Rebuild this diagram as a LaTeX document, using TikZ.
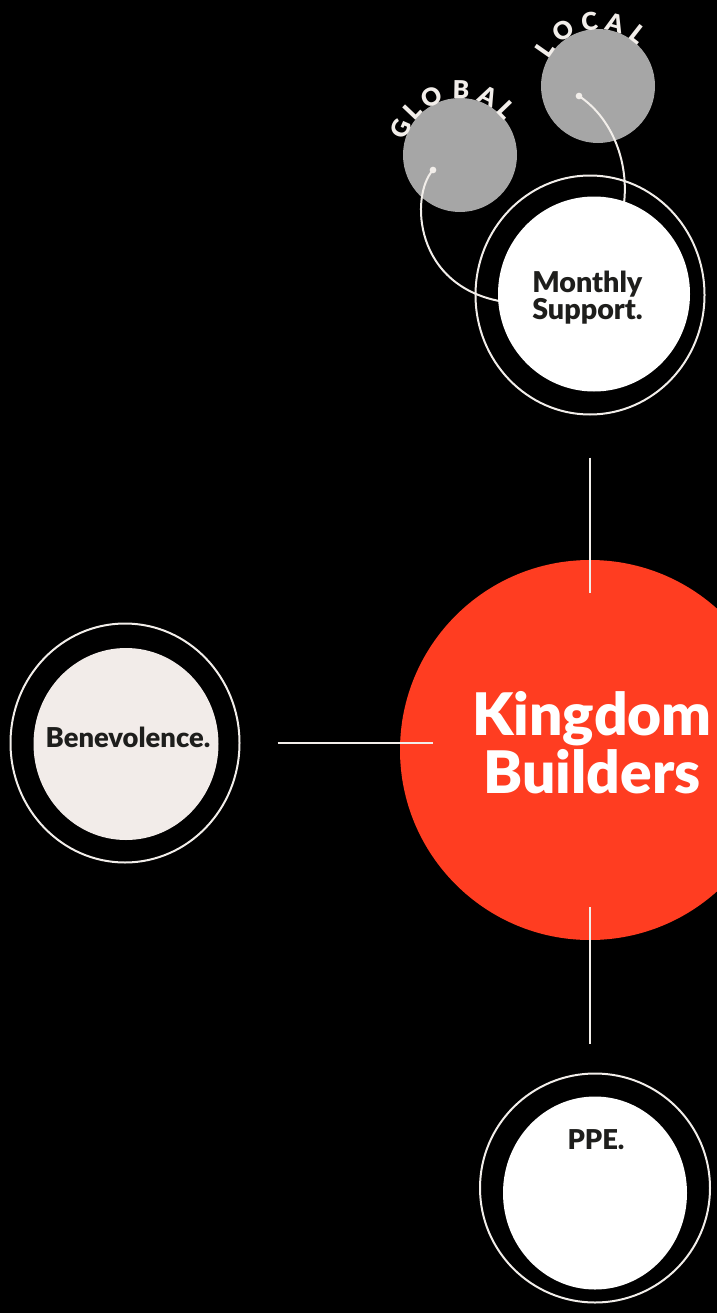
\documentclass[tikz,border=0pt]{standalone}
\usepackage{fontspec}
\setmainfont{Lato}[BoldFont={Lato Black}]
\usetikzlibrary{shapes.geometric,calc}
\definecolor{kbred}{HTML}{FF3D21}
\definecolor{ringw}{HTML}{F2EEEA}
\definecolor{greyc}{HTML}{A6A6A6}
\definecolor{ink}{HTML}{1E1E1C}
\definecolor{benev}{HTML}{F2ECE9}
\begin{document}
\begin{tikzpicture}[x=0.75pt,y=-0.75pt,
  ring/.style={ellipse, draw=ringw, line width=1.5pt, inner sep=0pt},
  disc/.style={ellipse, fill=#1, inner sep=0pt},
  lbl/.style={text=ink, font=\bfseries\fontsize{20.5pt}{18.75pt}\selectfont, inner sep=0pt},
  arcl/.style={text=ringw, font=\bfseries\fontsize{18.5pt}{18pt}\selectfont, inner sep=0pt},
  link/.style={draw=ringw, line width=1.5pt},
  dotc/.style={circle, fill=ringw, inner sep=0pt, minimum size=5pt}
]
\fill[black] (0,0) rectangle (717,1313);
\useasboundingbox (0,0) rectangle (717,1313);

% grey circles
\node[disc=greyc, minimum width=85.5pt, minimum height=85.5pt] (glob) at (460,155) {};
\node[disc=greyc, minimum width=85.5pt, minimum height=85.5pt] (loc) at (598,86) {};

% GLOBAL letters
\foreach \l/\a in {G/156.5, L/136.5, O/116, B/89, A/64, L/44}
  \node[arcl, rotate=\a-90] at ($(glob.center)+(\a:65 and -65)$) {\l};
% LOCAL letters
\foreach \l/\a in {L/145, O/122, C/97.5, A/75, L/52}
  \node[arcl, rotate=\a-90] at ($(loc.center)+(\a:65 and -65)$) {\l};

% Monthly support
\node[ring, minimum width=171.75pt, minimum height=179.25pt] (msr) at (590,295) {};
\node[dotc] (gd) at (433,170) {};
\node[dotc] (ld) at (579,96) {};
\draw[link] (gd.center) .. controls (410,195) and (413,288) .. (505,302);
\draw[link] (ld.center) .. controls (615,120) and (632,170) .. (622,215);
\node[disc=white, minimum width=144pt, minimum height=146.25pt] (ms) at (594,294) {};
\node[lbl, font=\bfseries\fontsize{21.5pt}{18.75pt}\selectfont, align=left, anchor=west] (mst) at (532,298) {Monthly\\Support.};

% Benevolence
\node[ring, minimum width=171.75pt, minimum height=179.25pt] (bvr) at (125,743) {};
\node[disc=benev, minimum width=138.75pt, minimum height=144pt] (bv) at (126,744) {};
\node[lbl, anchor=base] (bvt) at (128,747) {Benevolence.};

% Kingdom Builders
\node[disc=kbred, minimum width=285pt, minimum height=285pt] (kb) at (590,750) {};
\node[text=white, font=\bfseries\fontsize{44pt}{43.5pt}\selectfont, align=center, inner sep=0pt, anchor=base] (kbt) at (592,793) {Kingdom\\Builders};

% PPE
\node[ring, minimum width=172.5pt, minimum height=171.75pt] (ppr) at (595,1188) {};
\node[disc=white, minimum width=138pt, minimum height=144.75pt] (pp) at (595,1193) {};
\node[lbl, anchor=base] (ppt) at (596,1149) {PPE.};

% connectors
\coordinate (c1) at ($(msr.south)+(0,42)$);
\coordinate (c2) at ($(kb.north)+(0,33)$);
\coordinate (c3) at ($(kb.west)+(33,-7)$);
\coordinate (c4) at ($(bvr.east)+(37,0)$);
\coordinate (c5) at ($(kb.south)+(0,-33)$);
\coordinate (c6) at ($(c5)+(0,137)$);
\draw[link] (c1) -- (c2);
\draw[link] (c4) -- (c3);
\draw[link] (c5) -- (c6);
\end{tikzpicture}
\end{document}
